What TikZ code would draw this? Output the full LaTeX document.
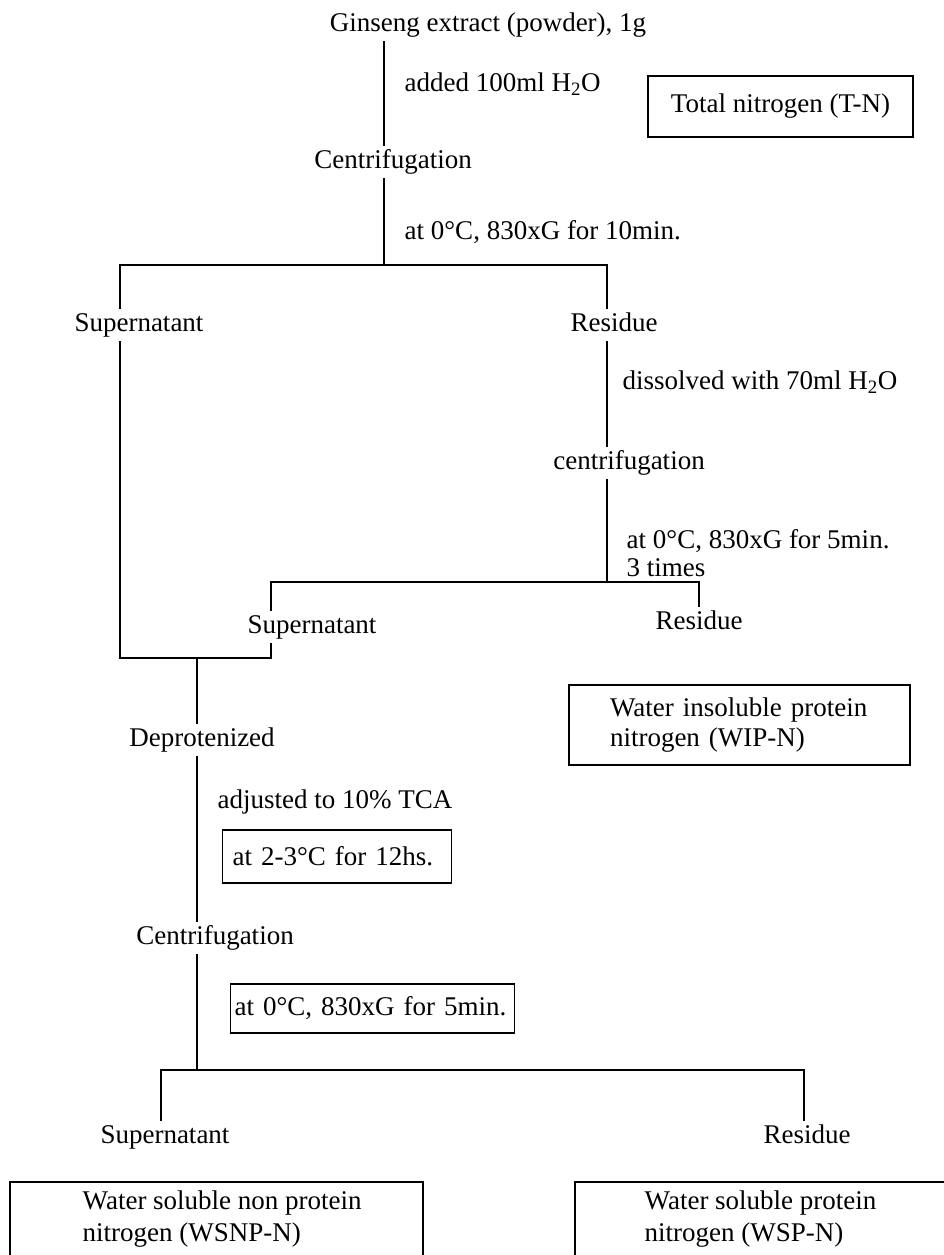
\documentclass[tikz,border=0pt]{standalone}
\usepackage{fontspec}
\setmainfont{Liberation Serif}
\tikzset{
  stepnode/.style = {inner sep=3pt, text height=19pt, text depth=6pt,
    font=\fontsize{27}{31}\selectfont},% step of the procedure
  notenode/.style = {stepnode, anchor=west},% condition beside a line
  notelines/.style = {anchor=west, align=left, inner sep=3pt,
    font=\fontsize{27}{28}\selectfont},% condition on two lines
  boxnode/.style = {draw=black, align=left, inner ysep=0pt,
    font=\fontsize{27}{30}\selectfont},% framed condition or result
  resulttext/.style = {anchor=west, align=left, inner sep=0pt,
    font=\fontsize{27}{32}\selectfont},% text of an open result box
  flow/.style = {line width=1.4pt}% connectors
}

\begin{document}
\begin{tikzpicture}[x=1pt,y=-1pt,flow]
\useasboundingbox (0,0) rectangle (944,1255);

% extraction
\node [stepnode] (ginseng) at (488,25) {Ginseng extract (powder), 1g};
\node [notenode] (addwater) at (401,85) {added 100ml H\textsubscript{2}O};
\node [boxnode, align=center, minimum width=265pt, minimum height=61pt]
  (totaln) at (780.5,106.5) {Total nitrogen (T-N)};
\node [stepnode] (centa) at (393,162) {Centrifugation};
\node [notenode] (conda) at (401,233) {at 0°C, 830xG for 10min.};
\coordinate (trunka) at (384,265);
\coordinate (lefta) at (120,265);
\coordinate (righta) at (607,265);
\node [stepnode] (supa) at (139,325) {Supernatant};
\node [stepnode] (resa) at (614,325) {Residue};

\draw (ginseng.south -| trunka) -- (centa.north -| trunka);
\draw (centa.south -| trunka) -- (trunka);
\draw (supa.north -| lefta) -- (lefta) -- (righta) -- (resa.north -| righta);

% washing of the residue
\node [notenode] (dissolve) at (619,383) {dissolved with 70ml H\textsubscript{2}O};
\node [stepnode] (centb) at (629,463) {centrifugation};
\node [notelines] (condb) at (623,553) {at 0°C, 830xG for 5min.\\3 times};
\coordinate (trunkb) at (607,582);
\coordinate (leftb) at (271,582);
\coordinate (rightb) at (699,582);
\node [stepnode] (supb) at (312,627) {Supernatant};
\node [stepnode] (resb) at (699,623) {Residue};
\node [boxnode, text width=259pt, inner xsep=41pt, minimum height=80pt]
  (wipn) at (739.5,725) {Water insoluble protein\\nitrogen (WIP-N)};

\draw (resa.south -| righta) -- (centb.north -| righta);
\draw (centb.south -| trunkb) -- (trunkb);
\draw (supb.north -| leftb) -- (leftb) -- (rightb) -- (resb.north -| rightb);

% both supernatants together
\coordinate (merge) at (197,658);
\draw (supa.south -| lefta) |- (merge) -| (supb.south -| leftb);
\node [stepnode] (deprot) at (202,740) {Deprotenized};
\draw (merge) -- (deprot.north -| merge);

\node [notenode] (tca) at (214,802) {adjusted to 10\% TCA};
\node [boxnode, anchor=west, text width=209pt, inner xsep=10pt,
  minimum height=53pt] (cold) at (222,856.5) {at 2-3°C for 12hs.};
\node [stepnode] (centc) at (215,938) {Centrifugation};
\node [boxnode, anchor=west, text width=276pt, inner xsep=4pt,
  minimum height=49pt] (condc) at (230,1008.5) {at 0°C, 830xG for 5min.};
\coordinate (trunkc) at (197,1070);
\coordinate (leftc) at (161,1070);
\coordinate (rightc) at (804,1070);
\node [stepnode] (supc) at (165,1137) {Supernatant};
\node [stepnode] (resc) at (807,1137) {Residue};

\draw (deprot.south -| trunkc) -- (centc.north -| trunkc);
\draw (centc.south -| trunkc) -- (trunkc);
\draw (supc.north -| leftc) -- (leftc) -- (rightc) -- (resc.north -| rightc);

% results, boxes open at the foot of the page
\node [resulttext] (wsnpn) at (82,1219) {Water soluble non protein\\nitrogen (WSNP-N)};
\node [resulttext] (wspn) at (644,1219) {Water soluble protein\\nitrogen (WSP-N)};
\draw (10,1255) |- (423,1182) -- (423,1255);
\draw (575,1255) |- (944,1182);
\end{tikzpicture}
\end{document}
